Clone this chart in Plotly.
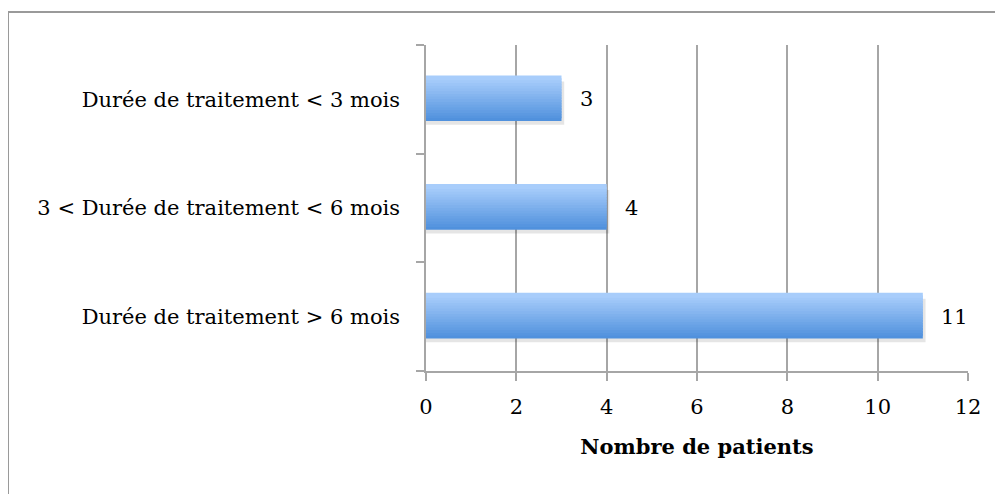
import plotly.graph_objects as go

categories = ["Durée de traitement > 6 mois",
              "3 < Durée de traitement < 6 mois",
              "Durée de traitement < 3 mois"]
values = [11, 4, 3]
x_ticks = [0, 2, 4, 6, 8, 10, 12]
x_title = "Nombre de patients"

FONT = "DejaVu Serif"
FS = 21
W, H = 1003, 494
# page body adds ~8px offset; compensate
L, T = 418, 37
PW, PH = 542, 326
R = W - L - PW
B = H - T - PH

# gradient emulation: horizontal strips from bottom (dark) to top (light)
N = 16
bar_w = 0.4
c_top = (168, 205, 251)
c_bot = (80, 145, 221)

fig = go.Figure()
# soft shadow
fig.add_trace(go.Bar(y=categories, x=[v + 0.06 for v in values], orientation="h",
                     width=bar_w, offset=-bar_w / 2 - 0.035,
                     marker=dict(color="rgba(0,0,0,0.10)", line=dict(width=0)),
                     hoverinfo="skip", showlegend=False))
for i in range(N):
    t = i / (N - 1)
    col = tuple(round(c_bot[k] + (c_top[k] - c_bot[k]) * t) for k in range(3))
    fig.add_trace(go.Bar(
        y=categories, x=values, orientation="h",
        width=bar_w / N + 0.02, offset=-bar_w / 2 + i * bar_w / N,
        marker=dict(color="rgb(%d,%d,%d)" % col, line=dict(width=0)),
        hoverinfo="skip", showlegend=False))

for c, v in zip(categories, values):
    fig.add_annotation(x=v, y=c, text=str(v), showarrow=False,
                       xanchor="left", xshift=16,
                       font=dict(family=FONT, size=FS, color="black"))

fig.add_shape(type="rect", xref="paper", yref="paper",
              x0=(0 - L) / PW, x1=(1020 - L) / PW,
              y0=(H - B - 520) / PH, y1=(H - B - 4) / PH,
              line=dict(color="#9a9a9a", width=2), fillcolor="rgba(0,0,0,0)",
              layer="below")

fig.update_layout(
    width=W, height=H,
    margin=dict(l=L, r=R, t=T, b=B),
    paper_bgcolor="white", plot_bgcolor="white",
    barmode="overlay",
    font=dict(family=FONT, size=FS, color="black"),
    xaxis=dict(range=[0, 12], tickvals=x_ticks, showgrid=True,
               gridcolor="#a6a6a6", gridwidth=1.5,
               showline=True, linecolor="#a6a6a6", linewidth=1.5,
               ticks="outside", ticklen=8, tickcolor="#a6a6a6", tickwidth=1.5,
               ticklabelstandoff=8,
               zeroline=False,
               title=dict(text="<b>" + x_title + "</b>", standoff=21,
                          font=dict(family=FONT, size=FS))),
    yaxis=dict(type="category", categoryorder="array", categoryarray=categories,
               range=[-0.5, 2.5],
               showline=True, linecolor="#a6a6a6", linewidth=1.5,
               ticks="outside", tickson="boundaries", ticklen=8,
               tickcolor="#a6a6a6", tickwidth=1.5, ticklabelstandoff=20,
               showgrid=False, zeroline=False),
)

fig.write_html("out.html")
